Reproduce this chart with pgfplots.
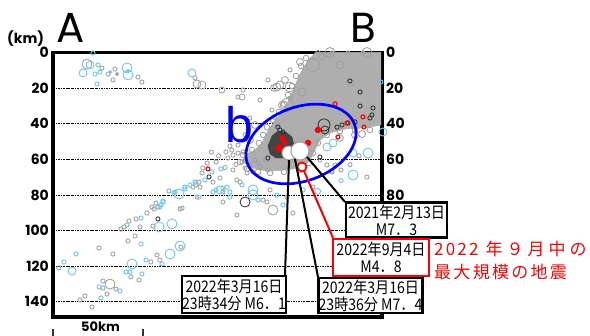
\documentclass[border=0pt]{standalone}
\usepackage{pgfplots}
\pgfplotsset{compat=1.18}
\usepackage{fontspec}
\newfontfamily\popp{Poppins}
\newfontfamily\cjk{Noto Sans CJK JP}
\newfontfamily\cjkn{Noto Sans CJK JP}[FakeStretch=0.88]
\newfontfamily\lsans{Liberation Sans}
\definecolor{grayc}{RGB}{160,160,160}
\definecolor{cloudc}{RGB}{174,174,174}
\definecolor{skyb}{RGB}{110,198,238}
\definecolor{darkc}{RGB}{50,50,50}
\definecolor{blobc}{RGB}{68,68,68}
\pgfplotsset{
  gs/.style={only marks, mark=o, mark size=#1, color=grayc, mark options={line width=0.85pt}},
  bs/.style={only marks, mark=o, mark size=#1, color=skyb, mark options={line width=0.9pt}},
  ds/.style={only marks, mark=o, mark size=#1, color=darkc, mark options={line width=0.85pt}},
  rs/.style={only marks, mark=o, mark size=#1, color=red, mark options={line width=1.1pt}},
  rf/.style={only marks, mark=*, mark size=#1, color=red},
  bf/.style={only marks, mark=*, mark size=#1, color=skyb},
  gf/.style={only marks, mark=*, mark size=#1, color=grayc},
}
\tikzset{box/.style={draw=black, line width=2.6pt, fill=white, inner sep=0pt, align=center,
  font=\cjkn\fontsize{16}{17}\selectfont},
  rlab/.style={anchor=west, inner sep=0pt, xshift=4pt, font=\popp\bfseries\fontsize{14}{14}\selectfont}}
\newcommand{\jsp}{\hspace{4pt}}
\newcommand{\jspb}{\hspace{2.3pt}}
\begin{document}
\begin{tikzpicture}[x=1pt,y=1pt]
\begin{axis}[
  at={(53pt,19pt)}, anchor=south west,
  scale only axis, width=329pt, height=264.5pt,
  xmin=0, xmax=182.8, ymin=0, ymax=148.6, y dir=reverse,
  clip=false,
  axis line style={line width=3.5pt, line cap=rect},
  xtick=\empty, ytick={0,20,...,140},
  major tick length=0pt,
  ymajorgrids,
  major grid style={black, line width=0.7pt, dash pattern=on 2.2pt off 1pt on 0.6pt off 1pt},
  /pgf/number format/assume math mode=true,
  yticklabel style={font=\popp\bfseries\fontsize{14}{14}\selectfont, inner sep=0pt, xshift=-4pt},
]
% dense cloud of small events
\addplot[fill=cloudc, draw=cloudc, line width=0.5pt] coordinates {
(146.1,0) (182.2,0) (182.2,40.7) (173.3,42.4) (162.2,43) (153.9,45.2) (148.3,49.2)
(145.6,54.8) (142.8,60.4) (137.2,64.9) (128.9,66) (121.7,66.6) (115,66) (109.4,64.3)
(105.6,61.5) (106.7,57.6) (112.2,54.8) (116.1,50.8) (118.3,46.3) (120.6,41.9) (123.9,37.9)
(127.2,33.4) (130,28.9) (132.2,23.9) (134.4,18.8) (136.7,13.2) (139.4,8.1) (142.8,3.1)} -- cycle;
\addplot[fill=blobc, draw=blobc] coordinates {
(121.7,46.9) (125,44.1) (129.4,44.7) (132.8,47.5) (133.9,52) (132.2,56.5) (128.9,59.3)
(123.9,59.3) (120.6,57) (119.4,52.5)} -- cycle;
% edge texture of the cloud
\addplot[gs=2.8] coordinates {
(140.6,3.1) (137.8,7.6) (135,13.2) (132.8,18.8) (130.6,23.9) (128.3,28.9) (125.6,33.4)
(122.2,37.9) (118.9,41.9) (116.7,46.3) (114.4,50.8) (110.6,54.8) (105.6,57.6) (103.9,61.5)
(107.8,65.4) (113.9,67.1) (120.6,67.7) (128.3,67.1) (136.7,66) (142.2,62.1) (144.4,56.5)
(147.2,50.8) (152.2,46.3) (159.4,44.1) (167.8,43.5) (176.1,43.5)};
\addplot[gs=3.5] coordinates {(122.8,19.9) (127.2,29.5) (128.9,15.4) (137.2,5.3) (112.2,40.7)
(109.4,49.2) (167.8,46.3) (159.4,48) (171.7,45.8)};
% gray small
\addplot[gs=2.1] coordinates {
(27.2,8.7) (34.4,9.3) (33.3,15.4) (47.2,13.8) (49.4,16.6) (78.9,14.3) (30.6,12.1)
(119.4,15.4) (105.6,21.1) (102.8,25) (147.2,0) (155,0.3) (163.9,0.3) (172.2,0.3)
(121.7,32.3) (123.3,36.8) (125,40.7) (131.7,25.6) (115,26.7) (131.7,9.8) (109.4,36.8)
(106.7,46.3) (102.8,52) (99.4,54.8) (97.2,59.3) (101.7,62.9) (95.6,64.6)
(3.3,121) (25.6,109.8) (33.3,113.2) (37.8,99.2) (39.4,98) (42.2,94.7) (46.1,93.5)
(48.3,98) (41.7,105.9) (45.6,103.1) (43.3,126.1) (47.8,127.8) (54.4,117.7) (59.4,116.6)
(52.2,90.2) (55,86.8) (56.1,87.9) (57.2,84.6) (58.3,86.8) (55.6,97.5) (57.8,113.8)
(71.1,109.3) (70.6,87.9) (64.4,77.8) (79.4,74.4) (80,81.2) (27.8,128.4) (27.8,132.3)
(30,135.7) (35,132.9) (17.8,136.8) (15,139) (21.7,143)
(83.3,64.9) (90.6,61.5) (82.8,67.7) (81.1,72.8) (88.9,72.8) (81.7,75.6) (77.8,75.6)
(94.4,78.4) (102.2,71.6) (103.9,72.8) (107.8,67.7) (100,66) (102.2,91.3) (71.7,87.4)
(113.9,62.1) (111.1,67.1) (119.4,66) (116.7,82.9) (102.8,56.5) (105.6,55.9) (100,57.6)
(112.2,60.4) (120.6,77.2) (118.9,84) (130,81.2) (133.3,90.2) (144.4,75.6) (94.4,84)
(92.8,70.5) (85.6,62.1) (155,67.1) (152.2,63.2) (148.3,60.4) (106.7,64.9) (109.4,63.2)
(115,64.4) (117.8,60.4) (105,61.5) (160,66) (165,63) (170,58) (174.4,70) (155,66.6)
(156.7,63.2) (96.1,55.9) (98.3,52.5) (92,58) (88,56)};
\addplot[gf=1.8] coordinates {(35.6,12.1)};
\addplot[gs=3] coordinates {(105,25) (93.9,21.1) (149.4,2.5)};
\addplot[gs=4] coordinates {(124.4,19.4) (82.8,18.3) (126.1,18.3) (138.3,22.2) (165,17.1) (159.4,7) (80,17.7)};
\addplot[gs=5] coordinates {(18.9,6.5) (31.7,130.1) (122.2,88.5) (153.9,0) (174.4,0) (131.7,19.4)};
\addplot[gs=6.5] coordinates {(144.4,7) (130,29.5)};
% light blue (deeper) events
\addplot[bs=2.1] coordinates {
(22.2,0.3) (25,7) (23.3,12.1) (26.1,11) (24.4,17.7) (6.1,117.7) (12.8,113.2) (41.1,96.9)
(48.9,93) (48.9,107.6) (40.6,123.3) (42.8,123.3) (49.4,124.4) (51.7,116.6) (60.6,118.8)
(59.4,86.8) (61.1,83.4) (60,85.7) (67.2,79) (73.3,76.7) (73.3,75.6) (79.4,72.8) (81.1,81.2)
(25.6,131.7) (26.7,137.9) (37.2,134) (93.3,65.4) (84.4,71.6) (78.9,72.8) (76.1,74.4)
(90.6,77.2) (96.7,75.6) (98.3,81.2) (105,74.4) (67.8,78.4) (61.1,84) (113.9,82.9)
(124.4,80.1) (127.8,85.7) (138.9,77.2) (98.3,78.4) (94.4,76.1) (88.9,78.4) (88.3,67.1)
(182.2,16.6) (160,72)};
\addplot[bf=1.8] coordinates {(31.7,11) (41.7,10.4)};
\addplot[bs=3] coordinates {(147,78)};
\addplot[bs=4] coordinates {(16.7,11.5) (20.6,7) (77.2,11.5) (10.6,122.8) (92.8,77.2) (166.7,56.5)
(183.3,44.7) (155.6,50.8) (152.2,53.1)};
\addplot[bs=5] coordinates {(41.1,8.7) (41.7,12.6) (43.9,118.8) (58.9,98) (66.1,96.3) (65,113.2)
(70.6,108.7) (70,79.5) (111.1,77.2) (111.1,80) (175,56.5) (166.7,68.8)};
% dark events
\addplot[ds=2.1] coordinates {(58.3,93.5) (86.7,69.9) (165,16) (170.6,22.2) (177.8,31.2) (176.1,36.8)
(167.8,39) (160.6,40.7) (157.8,41.9) (127.8,44.7) (170.6,30.1) (177.2,35.1) (163.9,39.6)
(148.3,58.7) (119.4,59.3) (126.1,43.5) (125,41.9)};
\addplot[ds=4] coordinates {(151.1,43.5)};
\addplot[ds=5] coordinates {(106.7,84)};
\addplot[ds=6] coordinates {(150.6,40.7)};
% red events (this month)
\addplot[rs=2] coordinates {(86.1,65.4) (156.7,28.9) (172.2,36.2) (163.3,39.6) (158.3,47.5) (127.2,48) (172.8,41.9)};
\addplot[rf=2.2] coordinates {(127.8,48.6) (128.9,50.8) (125.6,52.5) (127.2,54.8) (125,54.2)};
\addplot[rf=3] coordinates {(147.2,43.5) (141.7,50.8)};
% large events
\addplot[only marks, mark=*, mark size=7, mark options={draw=grayc, fill=white, line width=1pt}] coordinates {(131.1,56.5)};
\addplot[only marks, mark=*, mark size=9, mark options={draw=grayc, fill=white, line width=1pt}] coordinates {(137.2,55.3)};
\addplot[only marks, mark=*, mark size=4.5, mark options={draw=red, fill=white, line width=1.8pt}] coordinates {(138.3,64.3)};
% right-hand depth labels
\node[rlab] at (axis cs:182.8,0) {0};
\node[rlab] at (axis cs:182.8,20) {20};
\node[rlab] at (axis cs:182.8,40) {40};
\node[rlab] at (axis cs:182.8,60) {60};
\node[rlab] at (axis cs:182.8,80) {80};
\end{axis}
% region b
\draw[blue, line width=2.7pt, rotate around={20:(301,192)}] (301,192) ellipse [x radius=57, y radius=37];
\node[anchor=base west, inner sep=0pt, text=blue, font=\lsans\fontsize{50}{50}\selectfont] at (225,193) {b};
% labels A, B, km
\node[anchor=base west, inner sep=0pt, font=\popp\fontsize{42}{42}\selectfont] at (56,293) {A};
\node[anchor=base west, inner sep=0pt, font=\popp\fontsize{42}{42}\selectfont] at (350,293) {B};
\node[anchor=base west, inner sep=0pt, font=\popp\bfseries\fontsize{14}{14}\selectfont] at (7,292) {(km)};
% scale bar
\draw[line width=1.6pt, black!80] (53,7) -- (53,0) (143,7) -- (143,0);
\node[anchor=base west, inner sep=0pt, font=\popp\bfseries\fontsize{13}{13}\selectfont] at (81,4.5) {50km};
% callout lines
\draw[line width=2pt] (289,176) -- (285,61);
\draw[line width=2pt] (295,177) -- (318,59);
\draw[line width=2pt] (307,179) -- (345,134);
\draw[line width=2pt, red] (304,165) -- (333,98);
% callout boxes
\node[box, minimum width=102pt, minimum height=37pt] at (234,41.5) {2022年3月16日\\23時34分 M6．1};
\node[box, minimum width=101pt, minimum height=35pt] at (396.5,116) {2021年2月13日\\M7．3};
\node[box, minimum width=103pt, minimum height=35pt] at (370.5,40.5) {2022年3月16日\\23時36分 M7．4};
\node[box, draw=red, minimum width=96pt, minimum height=37pt] at (381,78.5) {2022年9月4日\\M4．8};
% red note
\node[anchor=west, inner sep=0pt, text=red, font=\cjk\fontsize{17}{17}\selectfont] at (434,87)
  {2\kern2.2pt0\kern2.2pt2\kern2.2pt2\hspace{7pt}年\jsp ９\jsp 月\jsp 中\jsp の};
\node[anchor=west, inner sep=0pt, text=red, font=\cjk\fontsize{17}{17}\selectfont] at (434,64)
  {最\jspb 大\jspb 規\jspb 模\jspb の\jspb 地\jspb 震};
\pgfresetboundingbox
\path[use as bounding box] (0,0) rectangle (590,336);
\end{tikzpicture}
\end{document}
